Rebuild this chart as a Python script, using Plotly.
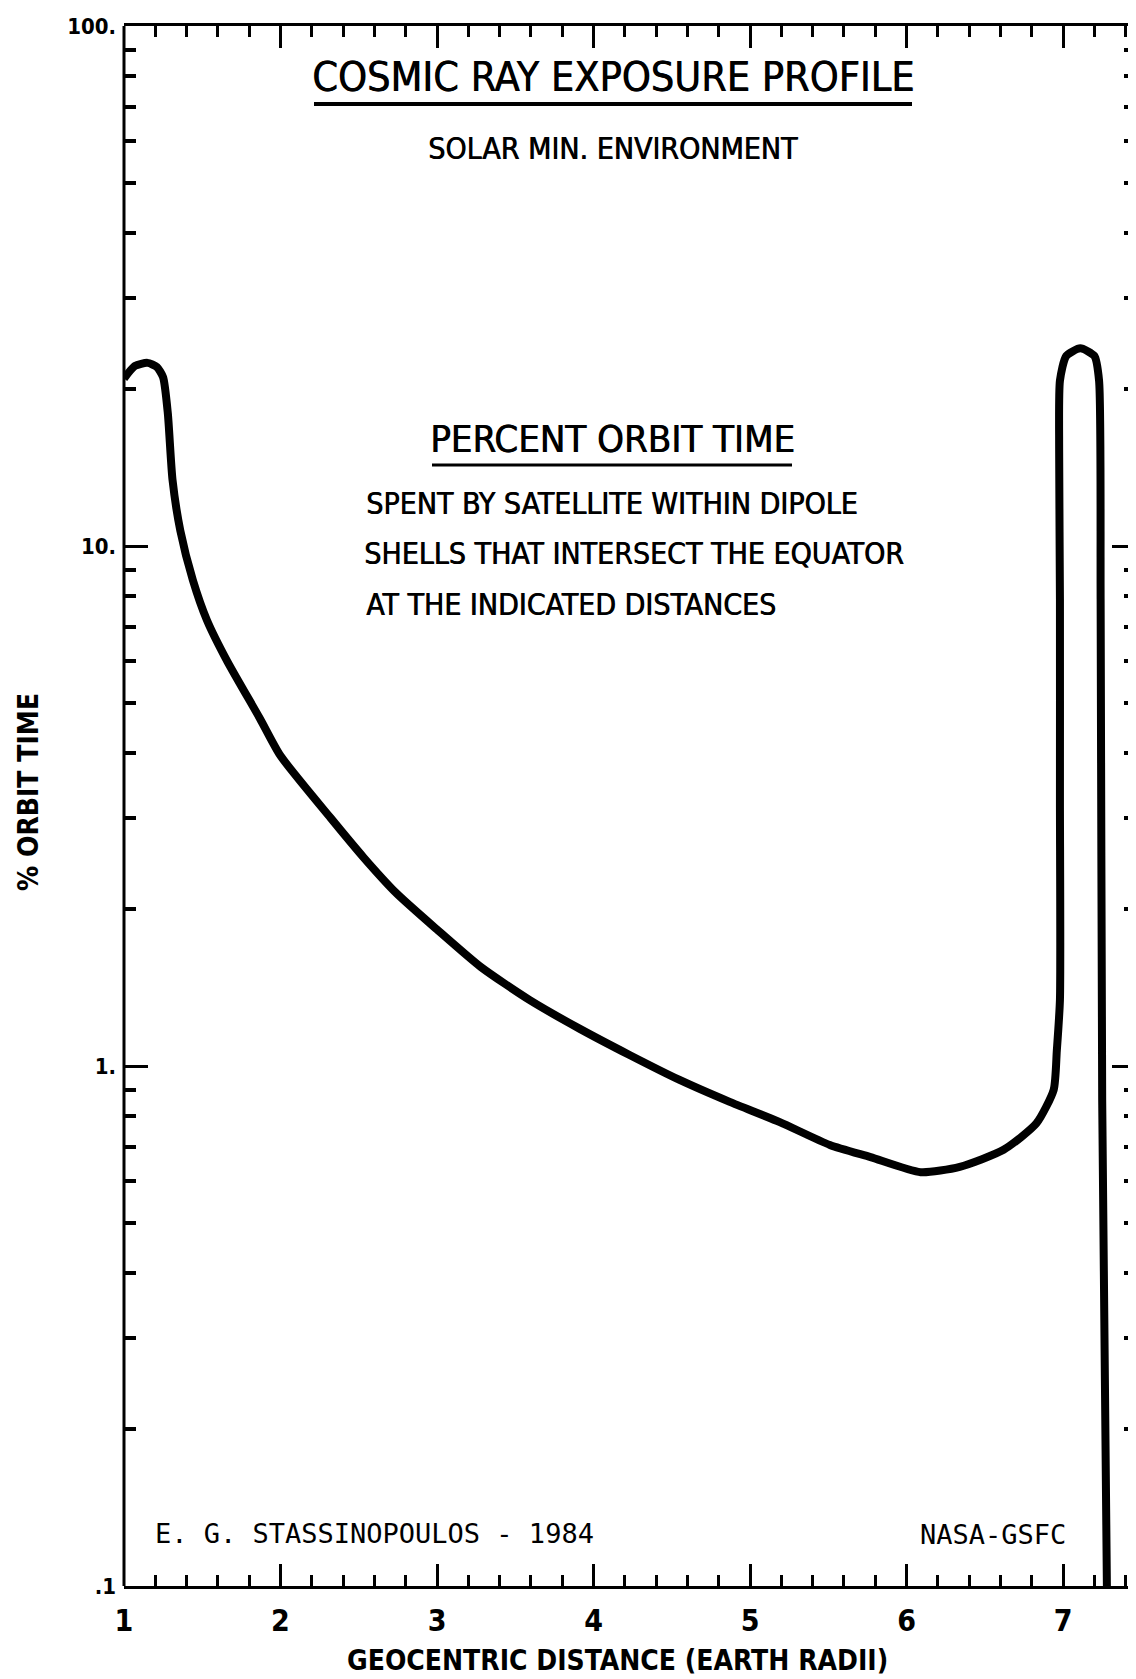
import plotly.graph_objects as go

# curve: geocentric distance (earth radii) vs % orbit time
dist = [1.00, 1.07, 1.15, 1.21, 1.25, 1.28, 1.31, 1.36, 1.44, 1.53, 1.66, 1.87, 2.00, 2.32,
        2.53, 2.74, 3.00, 3.28, 3.59, 3.91, 4.23, 4.55, 4.87, 5.19, 5.51, 5.77, 6.09, 6.34,
        6.62, 6.83, 6.94, 6.96, 6.98, 6.98, 6.98, 6.975, 6.98, 7.02, 7.11, 7.20, 7.23,
        7.24, 7.25, 7.28]
orbit_pct = [21.0, 22.2, 22.5, 22.1, 21.1, 18.0, 13.4, 10.7, 8.6, 7.2, 6.0, 4.65, 3.95, 3.0,
             2.52, 2.15, 1.83, 1.55, 1.34, 1.18, 1.05, 0.94, 0.853, 0.78, 0.705, 0.668, 0.625,
             0.64, 0.69, 0.776, 0.90, 1.07, 1.34, 3.25, 7.9, 15.3, 20.8, 23.2, 24.0, 23.2,
             20.8, 7.9, 0.86, 0.1]

x_ticks = [1, 2, 3, 4, 5, 6, 7]
y_ticks = [0.1, 1, 10, 100]
y_ticktext = [".1", "1.", "10.", "100."]
y_minor = [m * d for d in (0.1, 1, 10) for m in range(2, 10)]

# the page body has an 8px margin, so the figure is made 8px smaller
OFF = 8
W, H = 1136 - OFF, 1679 - OFF
L, R, T, B = 116, 0, 18, 93
PW, PH = W - L - R, H - T - B

NARROW = "DejaVu Sans Condensed, Liberation Sans Narrow, Arial Narrow, sans-serif"
MONO = "DejaVu Sans Mono, Liberation Mono, monospace"
HEAVY = "0.7px 0 0 black"


def px(xp):
    # page pixel -> paper fraction
    return (xp - OFF - L) / PW


def py(yp):
    return (H - B - (yp - OFF)) / PH


fig = go.Figure()
fig.add_trace(go.Scatter(x=dist, y=orbit_pct, mode="lines",
                         line=dict(color="black", width=8, shape="spline", smoothing=0.6),
                         showlegend=False))

axis_common = dict(showgrid=False, zeroline=False, ticks="inside", tickwidth=3,
                   tickcolor="black", color="black")

fig.update_xaxes(range=[1, 7.466], tickvals=x_ticks, ticklen=22, showline=True,
                 linewidth=3, linecolor="black", mirror="ticks",
                 minor=dict(dtick=0.2, tick0=1, ticks="inside", ticklen=11, tickwidth=3,
                            tickcolor="black"),
                 tickfont=dict(family=NARROW, size=30, color="black", weight="bold"),
                 ticklabelstandoff=6, **axis_common)
fig.update_yaxes(type="log", range=[-1, 2], tickvals=y_ticks, ticktext=y_ticktext,
                 ticklen=24, showline=False, mirror="ticks",
                 minor=dict(tickvals=y_minor, ticks="inside", ticklen=12, tickwidth=4,
                            tickcolor="black"),
                 tickfont=dict(family=NARROW, size=22, color="black", weight="bold"),
                 ticklabelstandoff=7, **axis_common)

shapes = [
    # left frame line
    dict(type="line", xref="paper", yref="paper", x0=0, x1=0, y0=0, y1=1,
         line=dict(color="black", width=3)),
    # title underline
    dict(type="line", xref="paper", yref="paper", x0=px(314), x1=px(912), y0=py(104), y1=py(104),
         line=dict(color="black", width=4)),
    # "percent orbit time" underline
    dict(type="line", xref="paper", yref="paper", x0=px(432), x1=px(792), y0=py(465), y1=py(465),
         line=dict(color="black", width=3)),
]

ann = []


def text(t, x, y, size, family=NARROW, xanchor="center", angle=0, weight="normal",
         shadow="none"):
    ann.append(dict(text=t, x=px(x), y=py(y), xref="paper", yref="paper", showarrow=False,
                    xanchor=xanchor, yanchor="middle", textangle=angle,
                    font=dict(family=family, size=size, color="black", weight=weight,
                              shadow=shadow)))


text("COSMIC RAY EXPOSURE PROFILE", 613, 77, 41, shadow=HEAVY)
text("SOLAR MIN. ENVIRONMENT", 613, 148, 30, shadow=HEAVY)
text("PERCENT ORBIT TIME", 612, 439, 38, shadow=HEAVY)
text("SPENT BY SATELLITE WITHIN DIPOLE", 364, 503, 30, xanchor="left", shadow=HEAVY)
text("SHELLS THAT INTERSECT THE EQUATOR", 362, 553, 30, xanchor="left", shadow=HEAVY)
text("AT THE INDICATED DISTANCES", 364, 604, 30, xanchor="left", shadow=HEAVY)
text("E. G. STASSINOPOULOS - 1984", 153, 1533, 27, family=MONO, xanchor="left")
text("NASA-GSFC", 1068, 1534, 27, family=MONO, xanchor="right")
text("GEOCENTRIC DISTANCE (EARTH RADII)", 617, 1660, 28, weight="bold")
text("% ORBIT TIME", 28, 792, 28, angle=-90, weight="bold")

fig.update_layout(width=W, height=H, margin=dict(l=L, r=R, t=T, b=B, pad=0),
                  paper_bgcolor="white", plot_bgcolor="white",
                  shapes=shapes, annotations=ann, showlegend=False)

fig.write_html("out.html")
